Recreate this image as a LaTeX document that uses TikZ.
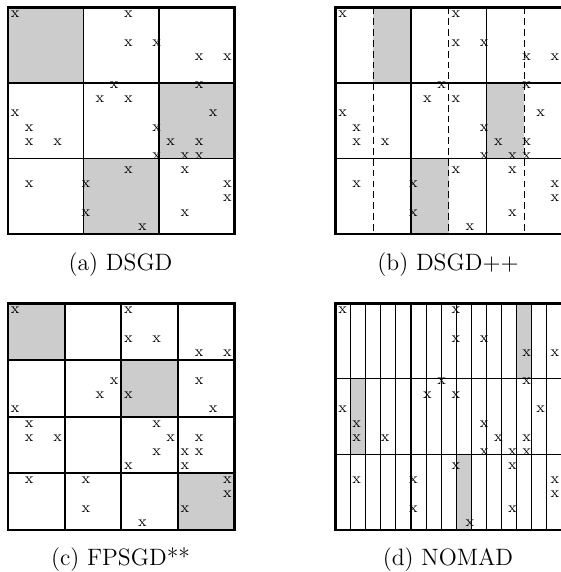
\documentclass[tikz,border=0pt]{standalone}
\definecolor{shadegray}{RGB}{204,204,204}
\newcommand{\pmarks}[3]{%
  \foreach \r/\c in {0/0,0/8,2/8,2/10,3/13,3/15,5/7,5/13,6/6,6/8,7/0,7/14,8/1,8/10,9/1,9/3,9/11,9/13,10/10,10/12,10/13,11/8,11/12,12/1,12/5,12/15,13/15,14/5,14/12,15/9}
  {\node[mk] (#3-\r-\c) at ({#1+(\c+0.5)*14.156},{#2+(\r+0.5)*14.156}) {x};}%
}
\begin{document}
\begin{tikzpicture}[x=0.49pt,y=-0.49pt,
  mk/.style={font=\fontsize{7.5}{9}\selectfont,inner sep=0pt},
  frame/.style={line width=1.1pt},
  blk/.style={line width=0.9pt},
  thinline/.style={line width=0.5pt},
  dsh/.style={line width=0.5pt,dash pattern=on 3.3pt off 2pt},
  shade/.style={fill=shadegray},
  capt/.style={font=\fontsize{11.6}{14}\selectfont,inner sep=0pt}]
\useasboundingbox (0,0) rectangle (561,572);
\clip (0,0) rectangle (561,572);

% ---------- (a) DSGD ----------
\fill[shade] (8,7.5) rectangle (83.5,83);
\fill[shade] (159,83) rectangle (234.5,158.5);
\fill[shade] (83.5,158.5) rectangle (159,234);
\pmarks{8}{7.5}{a}
\draw[blk] (83.5,7.5) -- (83.5,234) (159,7.5) -- (159,234)
           (8,83) -- (234.5,83) (8,158.5) -- (234.5,158.5);
\draw[frame] (8,7.5) rectangle (234.5,234);
\node[capt] (capa) at (120.5,265) {(a) DSGD};

% ---------- (b) DSGD++ ----------
\fill[shade] (373.25,7.5) rectangle (411,83);
\fill[shade] (486.5,83) rectangle (524.25,158.5);
\fill[shade] (411,158.5) rectangle (448.75,234);
\pmarks{335.5}{7.5}{b}
\draw[dsh] (373.25,7.5) -- (373.25,234) (448.75,7.5) -- (448.75,234) (524.25,7.5) -- (524.25,234);
\draw[blk] (411,7.5) -- (411,234) (486.5,7.5) -- (486.5,234)
           (335.5,83) -- (562,83) (335.5,158.5) -- (562,158.5);
\draw[frame] (335.5,7.5) rectangle (562,234);
\node[capt] (capb) at (448,265) {(b) DSGD++};

% ---------- (c) FPSGD** ----------
\fill[shade] (8,303.5) rectangle (64.625,360.125);
\fill[shade] (121.25,360.125) rectangle (177.875,416.75);
\fill[shade] (177.875,473.375) rectangle (234.5,530);
\pmarks{8}{303.5}{c}
\draw[blk] (64.625,303.5) -- (64.625,530) (121.25,303.5) -- (121.25,530) (177.875,303.5) -- (177.875,530)
           (8,360.125) -- (234.5,360.125) (8,416.75) -- (234.5,416.75) (8,473.375) -- (234.5,473.375);
\draw[frame] (8,303.5) rectangle (234.5,530);
\node[capt] (capc) at (120.5,559.5) {(c) FPSGD**};

% ---------- (d) NOMAD ----------
\fill[shade] (516.7,303.5) rectangle (531.8,378.5);
\fill[shade] (350.6,378.5) rectangle (365.7,454.5);
\fill[shade] (456.3,454.5) rectangle (471.4,530);
\pmarks{335.5}{303.5}{d}
\foreach \k in {1,...,14} {\draw[thinline] ({335.5+15.1*\k},303.5) -- ({335.5+15.1*\k},530);}
\draw[thinline] (335.5,378.5) -- (562,378.5) (335.5,454.5) -- (562,454.5);
\draw[frame] (335.5,303.5) rectangle (562,530);
\node[capt] (capd) at (448,559.5) {(d) NOMAD};
\end{tikzpicture}
\end{document}
